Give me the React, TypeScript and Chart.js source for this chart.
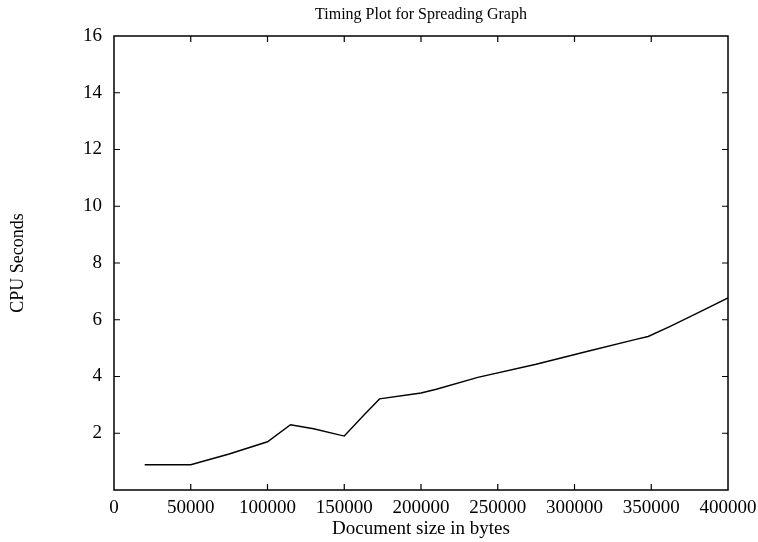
import React, { useEffect, useRef } from "react";
import { Chart, registerables } from "chart.js";

Chart.register(...registerables);

const docSizes = [20000, 50000, 75000, 100000, 115000, 130000, 150000, 163000, 173000, 200000, 210000, 237000, 275000, 308000, 340000, 348000, 362000, 380000, 400000];
const cpuSeconds = [0.89, 0.89, 1.27, 1.7, 2.3, 2.16, 1.9, 2.65, 3.21, 3.42, 3.55, 3.97, 4.43, 4.88, 5.31, 5.41, 5.76, 6.23, 6.77];
const xTicks = [0, 50000, 100000, 150000, 200000, 250000, 300000, 350000, 400000];
const yTicks = [0, 2, 4, 6, 8, 10, 12, 14, 16];

const FONT = "'Liberation Serif', 'Times New Roman', serif";

const framePlugin = {
  id: "frameTicks",
  afterDatasetsDraw(chart: any) {
    const { ctx, chartArea } = chart;
    const { left, right, top, bottom } = chartArea;
    const xs = chart.scales.x;
    const ys = chart.scales.y;
    const tl = 6;
    ctx.save();
    ctx.strokeStyle = "#000";
    ctx.lineWidth = 1.5;
    ctx.strokeRect(left, top, right - left, bottom - top);
    ctx.lineWidth = 1.2;
    ctx.beginPath();
    xTicks.slice(1, -1).forEach((v) => {
      const px = xs.getPixelForValue(v);
      ctx.moveTo(px, bottom);
      ctx.lineTo(px, bottom - tl);
      ctx.moveTo(px, top);
      ctx.lineTo(px, top + tl);
    });
    yTicks.slice(1, -1).forEach((v) => {
      const py = ys.getPixelForValue(v);
      ctx.moveTo(left, py);
      ctx.lineTo(left + tl, py);
      ctx.moveTo(right, py);
      ctx.lineTo(right - tl, py);
    });
    ctx.stroke();
    ctx.restore();
  },
};

export default function App() {
  const ref = useRef<HTMLCanvasElement | null>(null);
  useEffect(() => {
    document.body.style.margin = "0";
    const canvas = ref.current;
    if (!canvas) return;
    const chart = new Chart(canvas, {
      type: "line",
      data: {
        datasets: [
          {
            data: docSizes.map((x, i) => ({ x, y: cpuSeconds[i] })),
            borderColor: "#000",
            borderWidth: 1.4,
            pointRadius: 0,
            tension: 0,
            fill: false,
          },
        ],
      },
      options: {
        animation: false,
        responsive: false,
        maintainAspectRatio: false,
        layout: { padding: { left: 0, right: 0, top: 0, bottom: 0 } },
        plugins: {
          legend: { display: false },
          tooltip: { enabled: false },
          title: {
            display: true,
            text: "Timing Plot for Spreading Graph",
            color: "#000",
            fullSize: false,
            font: { family: FONT, size: 16, weight: "normal", lineHeight: 1.2 },
            padding: { top: 5, bottom: 11.8 },
          },
        },
        scales: {
          x: {
            type: "linear",
            min: 0,
            max: 400000,
            afterFit: (s: any) => {
              s.height = 52;
              s.paddingRight = 30;
              s.paddingLeft = 0;
            },
            afterBuildTicks: (s: any) => {
              s.ticks = xTicks.map((v) => ({ value: v }));
            },
            grid: { display: false, drawTicks: false },
            border: { display: false },
            ticks: {
              color: "#000",
              font: { family: FONT, size: 19 },
              padding: 7,
              maxRotation: 0,
              autoSkip: false,
              callback: (v: any) => String(v),
            },
            title: {
              display: true,
              text: "Document size in bytes",
              color: "#000",
              font: { family: FONT, size: 19, lineHeight: 1.2 },
              padding: { top: 0, bottom: 2 },
            },
          },
          y: {
            type: "linear",
            min: 0,
            max: 16,
            afterFit: (s: any) => {
              s.width = 114;
            },
            afterBuildTicks: (s: any) => {
              s.ticks = yTicks.map((v) => ({ value: v }));
            },
            grid: { display: false, drawTicks: false },
            border: { display: false },
            ticks: {
              color: "#000",
              font: { family: FONT, size: 19 },
              padding: 12,
              autoSkip: false,
              callback: (v: any) => (v === 0 ? "" : String(v)),
            },
            title: {
              display: true,
              text: "CPU Seconds",
              color: "#000",
              font: { family: FONT, size: 18, lineHeight: 1.2 },
              padding: { top: 7, bottom: 0 },
            },
          },
        },
      },
      plugins: [framePlugin],
    });
    return () => chart.destroy();
  }, []);
  return (
    <div style={{ width: 758, height: 542, background: "#fff" }}>
      <canvas ref={ref} width={758} height={542} style={{ display: "block" }} />
    </div>
  );
}
